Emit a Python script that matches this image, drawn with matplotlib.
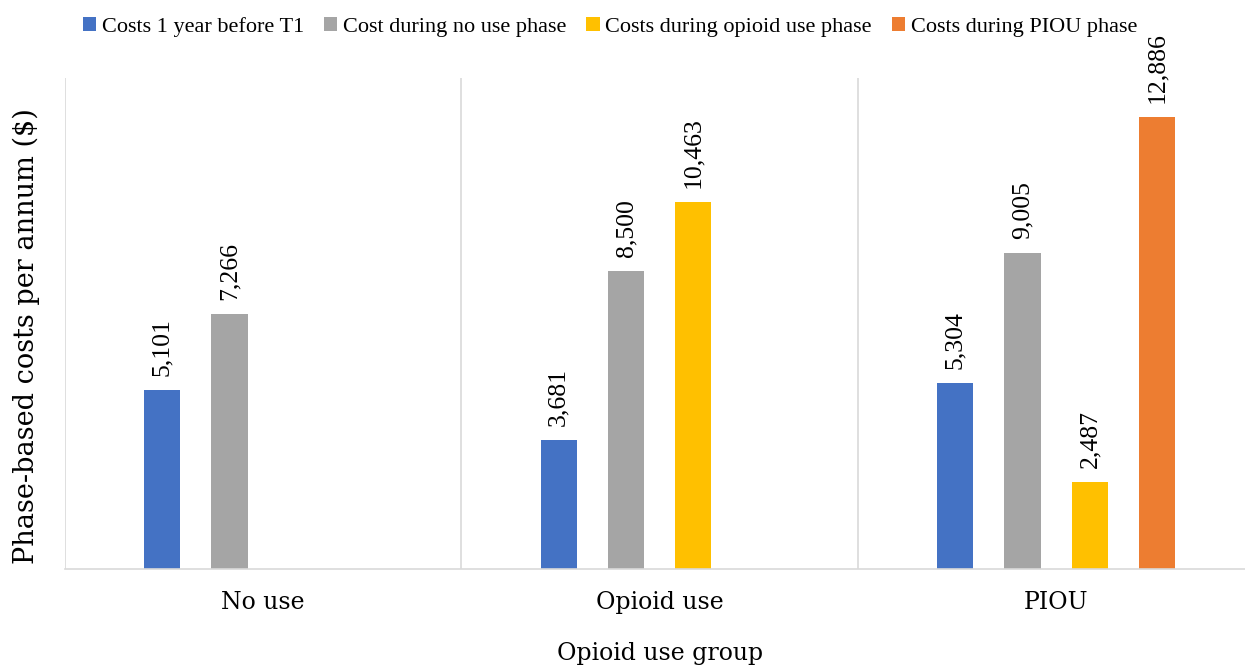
import numpy as np
import matplotlib
matplotlib.use("Agg")
import matplotlib.pyplot as plt

# data
groups = ["No use", "Opioid use", "PIOU"]
series = ["Costs 1 year before T1", "Cost during no use phase",
          "Costs during opioid use phase", "Costs during PIOU phase"]
before_t1 = [5101, 3681, 5304]
no_use_phase = [7266, 8500, 9005]
opioid_phase = [np.nan, 10463, 2487]
piou_phase = [np.nan, np.nan, 12886]
colors = ["#4472C4", "#A5A5A5", "#FFC000", "#ED7D31"]

values = [before_t1, no_use_phase, opioid_phase, piou_phase]

plt.rcParams['font.family'] = ['Liberation Serif', 'DejaVu Serif']

fig = plt.figure(figsize=(12.45, 6.7), dpi=100)
ax = fig.add_axes([0.0522, 0.1507, 0.9554, 0.7329])

slot = 0.17
width = 0.091
handles = []
for j, (name, vals, col) in enumerate(zip(series, values, colors)):
    xs = [i + 0.5 + (j - 1.5) * slot for i in range(len(vals))]
    ok = [k for k, v in enumerate(vals) if not np.isnan(v)]
    b = ax.bar([xs[k] for k in ok], [vals[k] for k in ok], width=width, color=col, label=name)
    handles.append(b)
    for k in ok:
        ax.annotate("{:,.0f}".format(vals[k]), (xs[k], vals[k]), xytext=(0, 10),
                    textcoords="offset points", rotation=90, ha="center", va="bottom",
                    fontsize=18.5, annotation_clip=False)

ax.set_xlim(0, 3)
ax.set_ylim(0, 14000)

# category separators
for xv in range(0, 4):
    ax.axvline(xv, color="#D9D9D9", lw=1.2, zorder=0)

for s in ["top", "right", "left"]:
    ax.spines[s].set_visible(False)
ax.spines["bottom"].set_color("#D9D9D9")
ax.spines["bottom"].set_linewidth(1.2)

ax.set_yticks([])
ax.set_xticks([i + 0.5 for i in range(len(groups))])
ax.set_xticklabels(groups, fontsize=17, family="DejaVu Serif")
ax.tick_params(axis="x", length=0, pad=16)

ax.set_xlabel("Opioid use group", fontsize=17, family="DejaVu Serif", labelpad=20)
ax.set_ylabel("Phase-based costs per annum ($)", fontsize=19.5, family="DejaVu Serif")
ax.yaxis.set_label_coords(-0.021, 0.4745)

fig.legend(handles, series, loc="center", bbox_to_anchor=(0.49, 0.96),
           ncol=4, frameon=False, fontsize=16, handlelength=0.6, handleheight=0.6,
           handletextpad=0.25, columnspacing=0.9)

fig.savefig("out.png", dpi=100)
